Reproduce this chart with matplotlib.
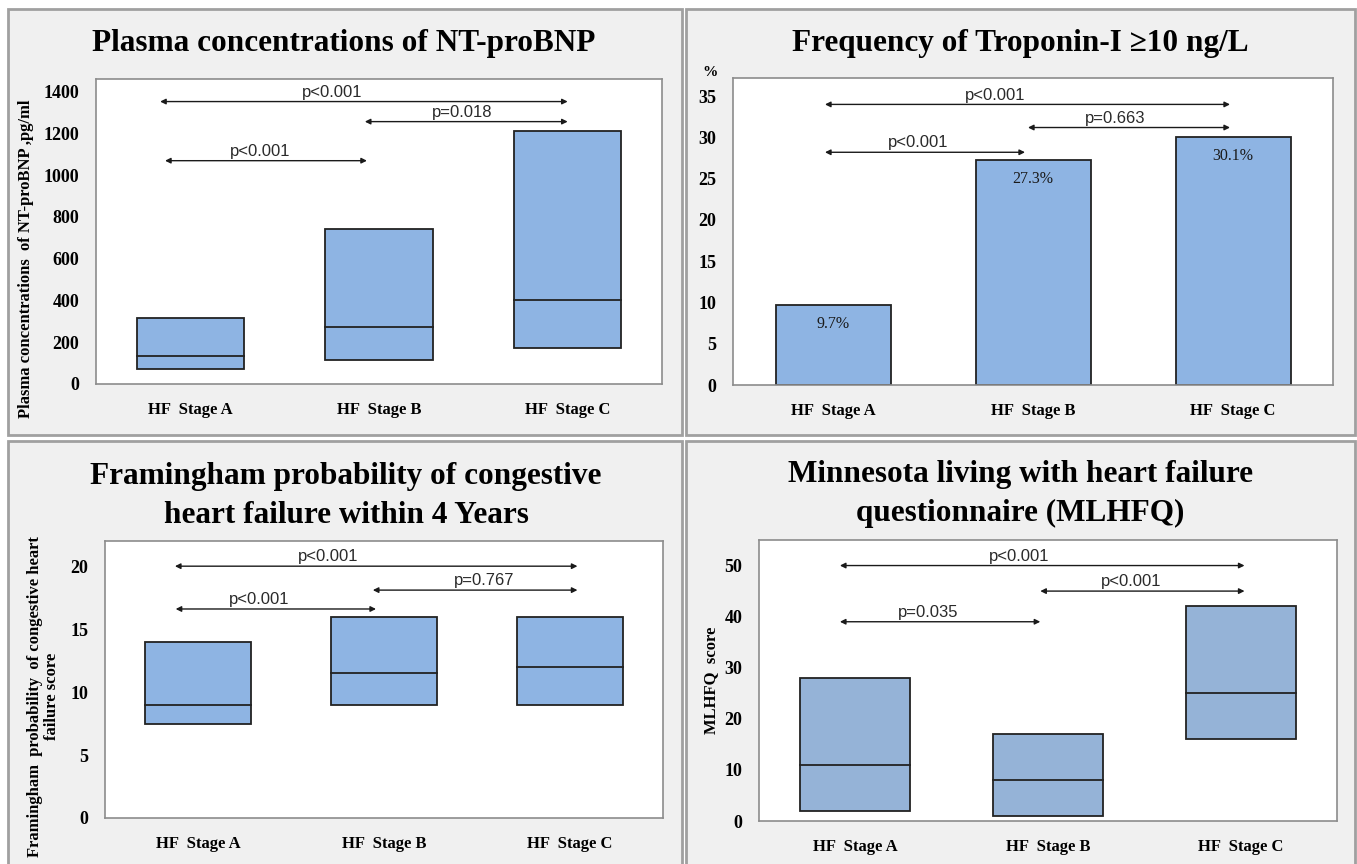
import matplotlib
matplotlib.use("Agg")
import matplotlib.pyplot as plt
from matplotlib.patches import Rectangle

# categories shared by all four panels
STAGES = ["HF  Stage A", "HF  Stage B", "HF  Stage C"]

# NT-proBNP (pg/ml): lower, median, upper of each box
bnp_low = [72, 115, 173]
bnp_med = [134, 273, 403]
bnp_high = [316, 743, 1213]

# Troponin-I >= 10 ng/L frequency (%)
trop_pct = [9.7, 27.3, 30.1]

# Framingham score boxes
fram_low = [7.5, 9, 9]
fram_med = [9, 11.5, 12]
fram_high = [14, 16, 16]

# MLHFQ score boxes
mlhfq_low = [2, 1, 16]
mlhfq_med = [11, 8, 25]
mlhfq_high = [28, 17, 42]

# p-value brackets: (x start, x end, y, label, label x)
bnp_pvals = [(-0.16, 2.0, 1352, "p<0.001", 0.75),
             (0.925, 2.0, 1256, "p=0.018", 1.44),
             (-0.134, 0.936, 1069, "p<0.001", 0.37)]
trop_pvals = [(-0.04, 1.985, 34.0, "p<0.001", 0.81),
              (0.975, 1.985, 31.2, "p=0.663", 1.41),
              (-0.04, 0.96, 28.2, "p<0.001", 0.425)]
fram_pvals = [(-0.124, 2.04, 20.0, "p<0.001", 0.70),
              (0.94, 2.04, 18.1, "p=0.767", 1.54),
              (-0.12, 0.957, 16.6, "p<0.001", 0.33)]
mlhfq_pvals = [(-0.08, 2.02, 50, "p<0.001", 0.85),
               (0.96, 2.02, 45, "p<0.001", 1.43),
               (-0.08, 0.96, 39, "p=0.035", 0.38)]

W, H = 1357, 864
SERIF = "Liberation Serif"
SANS = "Liberation Sans"
BOX = "#8eb4e3"
BOX4 = "#95b3d7"
EDGE = "#222222"

fig = plt.figure(figsize=(W / 100, H / 100), dpi=100)
fig.patch.set_facecolor("white")


def px_rect(x0, y0, x1, y1):
    return [x0 / W, 1 - y1 / H, (x1 - x0) / W, (y1 - y0) / H]


# grey panel frames
for x0, y0, x1, y1 in [(8, 9, 682, 435), (686, 9, 1355, 435),
                       (8, 441, 682, 870), (686, 441, 1355, 870)]:
    fig.add_artist(Rectangle((x0 / W, 1 - y1 / H), (x1 - x0) / W, (y1 - y0) / H,
                             transform=fig.transFigure, facecolor="#f0f0f0",
                             edgecolor="#a0a0a0", linewidth=2, zorder=0))


def style_axes(ax, ymax, yticks):
    ax.set_xlim(-0.5, 2.5)
    ax.set_ylim(0, ymax)
    ax.set_yticks(yticks)
    ax.set_xticks(range(len(STAGES)))
    ax.set_xticklabels(STAGES, fontfamily=SERIF, fontweight="bold", fontsize=12)
    for lab in ax.get_yticklabels():
        lab.set_fontfamily(SERIF)
        lab.set_fontweight("bold")
        lab.set_fontsize(13)
    ax.tick_params(length=0, axis="y", pad=12)
    ax.tick_params(length=0, axis="x", pad=13)
    for s in ax.spines.values():
        s.set_color("#8c8c8c")
        s.set_linewidth(1.2)
    ax.set_facecolor("white")


def draw_boxes(ax, low, med, high, color):
    x = list(range(len(low)))
    heights = [h - l for h, l in zip(high, low)]
    ax.bar(x, heights, bottom=low, width=0.57, color=color,
           edgecolor=EDGE, linewidth=1.3, zorder=2)
    for xi, m in zip(x, med):
        ax.plot([xi - 0.285, xi + 0.285], [m, m], color=EDGE, lw=1.3, zorder=3)


def draw_pvals(ax, pvals):
    for x0, x1, y, label, lx in pvals:
        ax.annotate("", xy=(x1, y), xytext=(x0, y),
                    arrowprops=dict(arrowstyle="<|-|>", color="#1a1a1a",
                                    lw=1.0, mutation_scale=8,
                                    shrinkA=0, shrinkB=0), zorder=4)
        ax.annotate(label, xy=(lx, y), xytext=(0, 3.5), textcoords="offset points",
                    ha="center", va="baseline", fontfamily=SANS,
                    fontsize=12, color="#2a2a2a", zorder=5)


def title(xc, yc, text):
    fig.text(xc / W, 1 - yc / H, text, ha="center", va="center",
             fontfamily=SERIF, fontweight="bold", fontsize=22.5,
             linespacing=1.45)


# panel 1: NT-proBNP
ax1 = fig.add_axes(px_rect(96, 79, 662, 384))
draw_boxes(ax1, bnp_low, bnp_med, bnp_high, BOX)
style_axes(ax1, 1460, range(0, 1401, 200))
draw_pvals(ax1, bnp_pvals)
ax1.set_ylabel("Plasma concentrations  of NT-proBNP ,pg/ml", fontfamily=SERIF,
               fontweight="bold", fontsize=12)
ax1.yaxis.set_label_coords(-0.11, 0.41)
title(344, 43, "Plasma concentrations of NT-proBNP")

# panel 2: Troponin-I
ax2 = fig.add_axes(px_rect(733, 78, 1333, 385))
x2 = list(range(len(trop_pct)))
ax2.bar(x2, trop_pct, width=0.575, color=BOX, edgecolor=EDGE,
        linewidth=1.3, zorder=2)
for xi, v in zip(x2, trop_pct):
    ax2.annotate(f"{v}%", xy=(xi, v), xytext=(0, -14), textcoords="offset points",
                 ha="center", va="center", fontfamily=SERIF, fontsize=11.5,
                 color="#1a1a1a", zorder=3)
style_axes(ax2, 37.2, range(0, 36, 5))
draw_pvals(ax2, trop_pvals)
fig.text(710 / W, 1 - 72 / H, "%", ha="center", va="center", fontfamily=SERIF,
         fontweight="bold", fontsize=11)
title(1020, 43, "Frequency of Troponin-I \u226510 ng/L")

# panel 3: Framingham
ax3 = fig.add_axes(px_rect(105, 541, 663, 818))
draw_boxes(ax3, fram_low, fram_med, fram_high, BOX)
style_axes(ax3, 22, range(0, 21, 5))
draw_pvals(ax3, fram_pvals)
ax3.set_ylabel("Framingham  probability  of congestive heart\nfailure score",
               fontfamily=SERIF, fontweight="bold", fontsize=12, linespacing=1.1)
ax3.yaxis.set_label_coords(-0.081, 0.44)
title(346, 496, "Framingham probability of congestive\nheart failure within 4 Years")

# panel 4: MLHFQ
ax4 = fig.add_axes(px_rect(759, 540, 1337, 821))
draw_boxes(ax4, mlhfq_low, mlhfq_med, mlhfq_high, BOX4)
style_axes(ax4, 55, range(0, 51, 10))
draw_pvals(ax4, mlhfq_pvals)
ax4.set_ylabel("MLHFQ  score", fontfamily=SERIF, fontweight="bold", fontsize=12)
ax4.yaxis.set_label_coords(-0.069, 0.5)
title(1020, 494, "Minnesota living with heart failure\nquestionnaire (MLHFQ)")

fig.savefig("out.png", dpi=100, facecolor=fig.get_facecolor())
